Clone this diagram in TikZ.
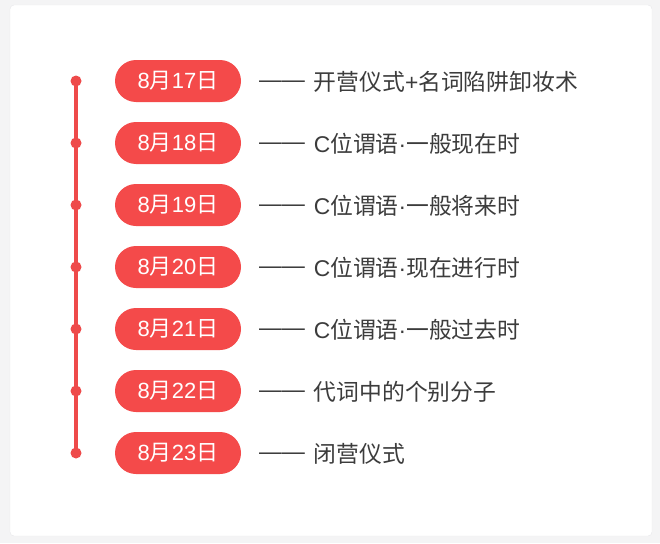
\documentclass[tikz,border=0pt]{standalone}
\usepackage{fontspec}
\setmainfont{Noto Sans CJK SC}
\newfontfamily\lat{Liberation Sans}
\definecolor{bgout}{HTML}{F4F4F5}
\definecolor{cardline}{HTML}{E8E8EA}
\definecolor{pillred}{HTML}{F44A4A}
\definecolor{linered}{HTML}{EE4A4A}
\definecolor{txtgray}{HTML}{3C3C3C}
\newcommand{\md}{{\lat ·}}
\newcommand{\Cc}{{\lat C}}
\begin{document}
\begin{tikzpicture}[x=1pt,y=-1pt,
  pill/.style={fill=pillred,text=white,rounded corners=21pt,minimum width=126pt,minimum height=42pt,inner sep=0pt,font=\fontsize{22}{26}\selectfont},
  desc/.style={anchor=west,text=txtgray,inner sep=0pt,font=\fontsize{22.8}{26}\selectfont},
  tdot/.style={circle,fill=linered,minimum size=11pt,inner sep=0pt}]
\useasboundingbox (0,0) rectangle (660,543);
\fill[bgout] (0,0) rectangle (660,543);
\draw[cardline,fill=white,rounded corners=4pt] (10,5) rectangle (652,536);
\foreach \i/\d/\t in {0/17/开营仪式{\lat +}名词陷阱卸妆术,1/18/\Cc 位谓语\md 一般现在时,2/19/\Cc 位谓语\md 一般将来时,3/20/\Cc 位谓语\md 现在进行时,4/21/\Cc 位谓语\md 一般过去时,5/22/代词中的个别分子,6/23/闭营仪式}{
  \node[pill] (p\i) at (178,81+62*\i) {{\lat 8}月{\lat \d}日};
  \node[tdot] (d\i) at (76,81+62*\i) {};
  \node[desc] (t\i) at (259,82+62*\i) {\raisebox{3.5pt}{\lat ——}\hspace{9pt}\t};
}
\draw[linered,line width=3.5pt] (d0.center) -- (d6.center);
\end{tikzpicture}
\end{document}
